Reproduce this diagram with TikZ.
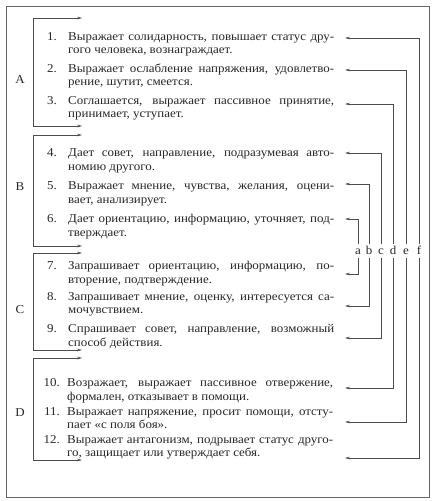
\documentclass[tikz,border=0pt]{standalone}
\usepackage{fontspec}
\setmainfont[FakeStretch=1.08]{Liberation Serif}
\usetikzlibrary{arrows.meta}
\newlength\linew \setlength\linew{266pt}
\newcommand\jline[1]{\makebox[\linew][s]{#1}}
\begin{document}
\begin{tikzpicture}[x=1pt,y=-1pt,
  txt/.style={anchor=base west, inner sep=0pt, font=\fontsize{12}{14}\selectfont, text=black!85},
  num/.style={anchor=base east, inner sep=0pt, font=\fontsize{12}{14}\selectfont, text=black!85},
  grp/.style={anchor=center, inner sep=0pt, font=\fontsize{12}{14}\selectfont, text=black!85},
  lett/.style={anchor=base, inner xsep=1pt, inner ysep=1.5pt, text height=8pt, text depth=2pt, font=\fontsize{12}{14}\selectfont, text=black!85},
  conn/.style={draw=black!70, line width=0.6pt, -{Stealth[length=5pt,width=2.6pt]}},
  bracket/.style={draw=black!70, line width=0.6pt, {Stealth[length=5pt,width=2.6pt]}-{Stealth[length=5pt,width=2.6pt]}},
  frame/.style={draw=black!60, line width=0.9pt}
]
\useasboundingbox (0,0) rectangle (435,501);
\draw[frame] (6,6) rectangle (429,497);

% group labels
\node[grp] (gA) at (20,80) {A};
\node[grp] (gB) at (20,187) {B};
\node[grp] (gC) at (20,310) {C};
\node[grp] (gD) at (20,413) {D};

% brackets
\coordinate (A1) at (82,18);  \coordinate (A2) at (82,126); \coordinate (Ac) at (33,126);
\coordinate (B1) at (82,135); \coordinate (B2) at (82,246); \coordinate (Bc) at (33,246);
\coordinate (C1) at (82,253); \coordinate (C2) at (82,350); \coordinate (Cc) at (33,350);
\coordinate (D1) at (82,358); \coordinate (D2) at (82,460); \coordinate (Dc) at (33,460);
\draw[bracket] (A1) -| (Ac) -- (A2);
\draw[bracket] (B1) -| (Bc) -- (B2);
\draw[bracket] (C1) -| (Cc) -- (C2);
\draw[bracket] (D1) -| (Dc) -- (D2);

% items
\node[num] (n1) at (57,40.5) {1.};
\node[txt] (t1a) at (68,40.5) {\jline{Выражает солидарность, повышает статус дру-}};
\node[txt] (t1b) at (68,53.5) {гого человека, вознаграждает.};
\node[num] (n2) at (57,72) {2.};
\node[txt] (t2a) at (68,72) {\jline{Выражает ослабление напряжения, удовлетво-}};
\node[txt] (t2b) at (68,85) {рение, шутит, смеется.};
\node[num] (n3) at (57,104) {3.};
\node[txt] (t3a) at (68,104) {\jline{Соглашается, выражает пассивное принятие,}};
\node[txt] (t3b) at (68,117) {принимает, уступает.};

\node[num] (n4) at (57,156.5) {4.};
\node[txt] (t4a) at (68,156.5) {\jline{Дает совет, направление, подразумевая авто-}};
\node[txt] (t4b) at (68,170) {номию другого.};
\node[num] (n5) at (57,189.5) {5.};
\node[txt] (t5a) at (68,189.5) {\jline{Выражает мнение, чувства, желания, оцени-}};
\node[txt] (t5b) at (68,203) {вает, анализирует.};
\node[num] (n6) at (57,222.5) {6.};
\node[txt] (t6a) at (68,222.5) {\jline{Дает ориентацию, информацию, уточняет, под-}};
\node[txt] (t6b) at (68,236) {тверждает.};

\node[num] (n7) at (57,269.5) {7.};
\node[txt] (t7a) at (68,269.5) {\jline{Запрашивает ориентацию, информацию, по-}};
\node[txt] (t7b) at (68,283) {вторение, подтверждение.};
\node[num] (n8) at (57,300) {8.};
\node[txt] (t8a) at (68,300) {\jline{Запрашивает мнение, оценку, интересуется са-}};
\node[txt] (t8b) at (68,313.5) {мочувствием.};
\node[num] (n9) at (57,332.5) {9.};
\node[txt] (t9a) at (68,332.5) {\jline{Спрашивает совет, направление, возможный}};
\node[txt] (t9b) at (68,346) {способ действия.};

\node[num] (n10) at (60,386.5) {10.};
\node[txt] (t10a) at (67,386.5) {\jline{Возражает, выражает пассивное отвержение,}};
\node[txt] (t10b) at (67,400) {формален, отказывает в помощи.};
\node[num] (n11) at (60,415.5) {11.};
\node[txt] (t11a) at (67,415.5) {\jline{Выражает напряжение, просит помощи, отсту-}};
\node[txt] (t11b) at (67,428.5) {пает «с поля боя».};
\node[num] (n12) at (60,443.5) {12.};
\node[txt] (t12a) at (67,443.5) {\jline{Выражает антагонизм, подрывает статус друго-}};
\node[txt] (t12b) at (67,456.5) {го, защищает или утверждает себя.};

% right-hand arrow ends
\coordinate (r1) at (345,38);
\coordinate (r2) at (345,70);
\coordinate (r3) at (345,104);
\coordinate (r4) at (345,153);
\coordinate (r5) at (345,184);
\coordinate (r6) at (345,219);
\coordinate (r7) at (345,274);
\coordinate (r8) at (345,306);
\coordinate (r9) at (345,338);
\coordinate (r10) at (345,388);
\coordinate (r11) at (345,422);
\coordinate (r12) at (345,458);

% letters
\node[lett] (a) at (358,254) {a};
\node[lett] (b) at (369,254) {b};
\node[lett] (c) at (381,254) {c};
\node[lett] (d) at (393,254) {d};
\node[lett] (e) at (406,254) {e};
\node[lett] (f) at (419,254) {f};

\draw[conn] (a.north) |- (r6);
\draw[conn] (a.south) |- (r7);
\draw[conn] (b.north) |- (r5);
\draw[conn] (b.south) |- (r8);
\draw[conn] (c.north) |- (r4);
\draw[conn] (c.south) |- (r9);
\draw[conn] (d.north) |- (r3);
\draw[conn] (d.south) |- (r10);
\draw[conn] (e.north) |- (r2);
\draw[conn] (e.south) |- (r11);
\draw[conn] (f.north) |- (r1);
\draw[conn] (f.south) |- (r12);
\end{tikzpicture}
\end{document}
